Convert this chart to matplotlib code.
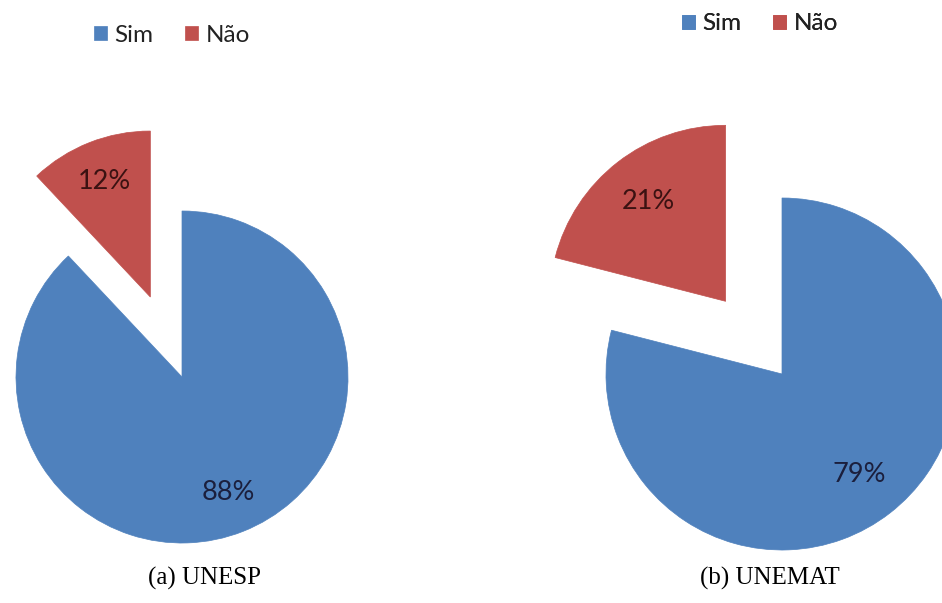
import matplotlib
matplotlib.use('Agg')
import matplotlib.pyplot as plt

# data
labels = ['Sim', 'Não']
unesp = [88, 12]
unemat = [79, 21]
captions = ['(a) UNESP', '(b) UNEMAT']
colors = ['#4F81BD', '#C0504D']

W, H = 942, 603
fig = plt.figure(figsize=(W / 100, H / 100), dpi=100)
ax = fig.add_axes([0, 0, 1, 1])

pct_font = dict(family=['Lato', 'DejaVu Sans'], fontsize=19.5)


def draw_pie(values, cx, cy, r, expl, pctd, leg_xy, cap_xy, caption):
    # explode is in data units (pixels here)
    wedges, _, autotexts = ax.pie(values, colors=colors, startangle=90, counterclock=False,
                                  explode=[0, expl], center=(cx, H - cy), radius=r,
                                  autopct='%1.0f%%', pctdistance=pctd,
                                  wedgeprops=dict(linewidth=0.5), textprops=pct_font)
    for w in wedges:
        w.set_edgecolor(w.get_facecolor())
    autotexts[0].set_color('#1b1f3d')
    autotexts[1].set_color('#3b1212')
    leg = ax.legend(wedges, labels, ncol=2, frameon=False, loc='center',
                    bbox_to_anchor=(leg_xy[0], H - leg_xy[1]), bbox_transform=ax.transData,
                    handlelength=0.55, handleheight=0.55, handletextpad=0.3, columnspacing=1.3,
                    prop=dict(family=['Lato', 'DejaVu Sans'], size=17.5))
    for t in leg.get_texts():
        t.set_color('#222222')
    ax.add_artist(leg)
    ax.text(cap_xy[0], H - cap_xy[1], caption, ha='center', va='center',
            fontsize=18, family=['Liberation Serif', 'DejaVu Serif'], color='black')


draw_pie(unesp, 182, 377, 166, 86, 0.75, (172, 35), (205, 578), captions[0])
draw_pie(unemat, 782, 374, 176, 92, 0.72, (760, 24), (770, 578), captions[1])

ax.set_xlim(0, W)
ax.set_ylim(0, H)
ax.set_aspect('equal')
ax.axis('off')

fig.savefig('out.png', dpi=100, facecolor='white')
